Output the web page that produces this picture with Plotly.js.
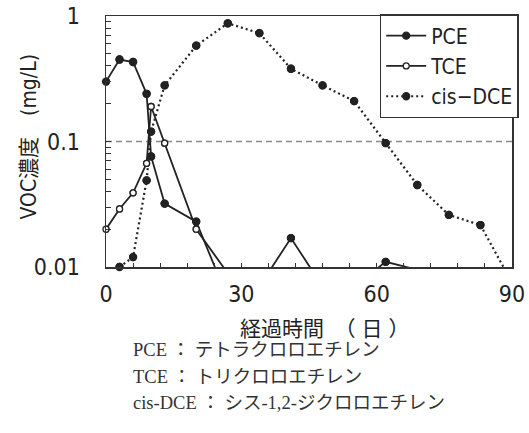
<!DOCTYPE html>
<html><head><meta charset="utf-8">
<script src="https://cdn.plot.ly/plotly-3.0.1.min.js"></script>
<style>html,body{margin:0;padding:0;background:#fff}#chart{width:529px;height:433px}</style>
</head><body><div id="chart"></div>
<script>
// elapsed days of sampling
const days = [0, 3, 6, 9, 10, 13, 20, 27, 34, 41, 48, 55, 62, 69, 76, 83, 90];
// VOC concentrations (mg/L); values below 0.01 fall off the chart
const pce = [0.30, 0.45, 0.43, 0.24, 0.076, 0.032, 0.023, 0.0056, 0.007, 0.017, 0.007, 0.007, 0.011, 0.0095, null, null, null];
const tce = [0.020, 0.029, 0.039, 0.067, 0.19, 0.097, 0.020, 0.0089, null, null, null, null, null, null, null, null, null];
const cisDce = [null, 0.010, 0.012, 0.049, 0.12, 0.28, 0.58, 0.875, 0.73, 0.38, 0.28, 0.21, 0.097, 0.045, 0.026, 0.0216, 0.0075];
const seriesNames = ['PCE', 'TCE', 'cis\u2212DCE'];
const refLevel = 0.1;
const xTickVals = [0, 6, 12, 18, 24, 30, 36, 42, 48, 54, 60, 66, 72, 78, 84, 90];
const xTickLabels = ['0', '', '', '', '', '30', '', '', '', '', '60', '', '', '', '', '90'];
const yTickVals = [0.01,0.02,0.03,0.04,0.05,0.06,0.07,0.08,0.09,0.1,0.2,0.3,0.4,0.5,0.6,0.7,0.8,0.9,1];
const yTickLabels = ['0.01','','','','','','','','','0.1','','','','','','','','','1'];
const xTitle = '経過時間　（ 日 ）';
const yTitle = 'VOC濃度　(mg/L)';
const captions = ['PCE ： テトラクロロエチレン', 'TCE ： トリクロロエチレン', 'cis-DCE ： シス-1,2-ジクロロエチレン'];

const INK = '#222';
const LAT = '"Liberation Sans Narrow", "DejaVu Sans Condensed", "Liberation Sans", "Noto Sans CJK JP", sans-serif';
const SERIF = '"Liberation Serif", "Noto Sans CJK JP", serif';

const styles = [
  {dash: 'solid', width: 1.8, fill: INK, size: 7},
  {dash: 'solid', width: 1.8, fill: '#fff', size: 6},
  {dash: '2px,3px', width: 2.2, fill: INK, size: 7}
];
const ys = [pce, tce, cisDce];

const traces = [{
  x: [0, 90], y: [refLevel, refLevel], mode: 'lines', showlegend: false, hoverinfo: 'skip',
  line: {color: '#8a8a8a', width: 1.5, dash: '6px,4px'}
}];
ys.forEach((y, i) => {
  traces.push({
    x: days, y: y, name: seriesNames[i], mode: 'lines+markers', connectgaps: false,
    line: {color: INK, width: styles[i].width, dash: styles[i].dash},
    marker: {color: styles[i].fill, symbol: 'circle', size: styles[i].size,
             line: {color: INK, width: 1.3}}
  });
});
ys.forEach((y, i) => {
  traces.push({
    x: days, y: y, mode: 'markers', showlegend: false, cliponaxis: false, hoverinfo: 'skip',
    marker: {color: styles[i].fill, symbol: 'circle', size: styles[i].size,
             line: {color: INK, width: 1.3}}
  });
});

const L = 105.7, R = 518.2, T = 16, B = 267;
const px = v => (v - L) / (R - L);
const py = v => (B - v) / (B - T);

const annotations = [{
  text: xTitle, xref: 'paper', yref: 'paper', x: px(328), y: py(329),
  xanchor: 'center', yanchor: 'middle', showarrow: false,
  font: {family: LAT, size: 21, color: INK}
}, {
  text: yTitle, xref: 'paper', yref: 'paper', x: px(27), y: py(137), textangle: -90,
  xanchor: 'center', yanchor: 'middle', showarrow: false,
  font: {family: LAT, size: 21, color: INK}
}];
const capY = [350, 377, 403];
captions.forEach((c, i) => annotations.push({
  text: c, xref: 'paper', yref: 'paper', x: px(131), y: py(capY[i]),
  xanchor: 'left', yanchor: 'middle', showarrow: false,
  font: {family: SERIF, size: 18.5, color: '#333'}
}));

const layout = {
  width: 529, height: 433,
  margin: {l: L, r: 529 - R, t: T, b: 433 - B, pad: 0},
  paper_bgcolor: '#fff', plot_bgcolor: '#fff',
  showlegend: true,
  legend: {x: px(525), y: py(14), xanchor: 'right', yanchor: 'top',
           bgcolor: '#fff', bordercolor: '#333', borderwidth: 1.5,
           font: {family: LAT, size: 21, color: INK}, itemwidth: 40, tracegroupgap: 0},
  xaxis: {type: 'linear', range: [0, 90], showgrid: false, zeroline: false,
          showline: true, linecolor: '#333', linewidth: 1.5, mirror: true,
          ticks: 'inside', ticklen: 4, tickcolor: '#333', tickwidth: 1,
          tickmode: 'array', tickvals: xTickVals, ticktext: xTickLabels,
          tickfont: {family: LAT, size: 23, color: INK}, ticklabelstandoff: 6},
  yaxis: {type: 'log', range: [-2, 0], showgrid: false, zeroline: false,
          showline: true, linecolor: '#333', linewidth: 1.5, mirror: true,
          ticks: 'inside', ticklen: 5, tickcolor: '#333', tickwidth: 1,
          tickmode: 'array', tickvals: yTickVals, ticktext: yTickLabels,
          tickfont: {family: LAT, size: 23, color: INK}, ticklabelstandoff: 20},
  annotations: annotations
};

Plotly.newPlot('chart', traces, layout, {staticPlot: true, displayModeBar: false});
</script></body></html>
